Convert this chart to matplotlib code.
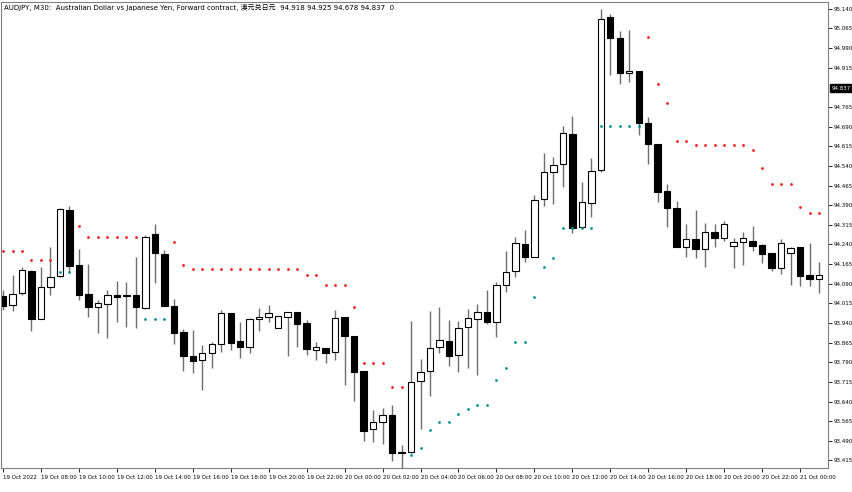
import numpy as np
import matplotlib
matplotlib.use("Agg")
import matplotlib.pyplot as plt

plt.rcParams['font.family'] = ['DejaVu Sans', 'Noto Sans CJK SC']

# AUDJPY M30 candles, 19 Oct 2022 06:00 .. 21 Oct 2022 01:00
opens = [94.043, 94.009, 94.055, 94.139, 93.955, 94.078, 94.120, 94.372, 94.162, 94.051,
         94.001, 94.013, 94.047, 94.047, 94.047, 93.997, 94.280, 94.204, 94.005, 93.906,
         93.814, 93.799, 93.826, 93.860, 93.978, 93.871, 93.848, 93.955, 93.963, 93.921,
         93.963, 93.982, 93.940, 93.837, 93.845, 93.829, 93.963, 93.890, 93.757, 93.535,
         93.562, 93.589, 93.447, 93.447, 93.719, 93.757, 93.848, 93.871, 93.818, 93.925,
         93.955, 93.982, 93.944, 94.085, 94.139, 94.242, 94.192, 94.414, 94.517, 94.548,
         94.662, 94.307, 94.399, 94.525, 95.109, 95.029, 94.895, 94.903, 94.704, 94.624,
         94.444, 94.379, 94.230, 94.261, 94.223, 94.288, 94.265, 94.234, 94.250, 94.253,
         94.238, 94.208, 94.150, 94.208, 94.230, 94.123, 94.108]
highs = [94.066, 94.123, 94.154, 94.143, 94.154, 94.230, 94.379, 94.387, 94.223, 94.166,
         94.028, 94.066, 94.101, 94.097, 94.192, 94.276, 94.318, 94.219, 94.032, 93.917,
         93.913, 93.856, 93.868, 93.990, 93.978, 93.944, 93.959, 93.997, 94.009, 93.967,
         93.982, 93.982, 93.952, 93.868, 93.845, 93.990, 93.963, 93.890, 93.757, 93.608,
         93.615, 93.627, 93.474, 93.948, 93.803, 93.986, 94.001, 93.952, 93.948, 93.994,
         94.013, 94.066, 94.097, 94.215, 94.269, 94.295, 94.429, 94.590, 94.574, 94.693,
         94.731, 94.479, 94.570, 95.140, 95.121, 95.056, 95.059, 94.903, 94.727, 94.624,
         94.471, 94.406, 94.318, 94.372, 94.322, 94.318, 94.330, 94.265, 94.288, 94.311,
         94.242, 94.208, 94.261, 94.230, 94.230, 94.246, 94.173]
lows = [93.990, 93.986, 94.047, 93.910, 93.955, 94.047, 94.116, 94.131, 94.028, 93.963,
        93.902, 93.883, 93.944, 93.925, 93.921, 93.994, 94.093, 94.005, 93.860, 93.757,
        93.749, 93.684, 93.768, 93.829, 93.837, 93.806, 93.826, 93.910, 93.944, 93.921,
        93.814, 93.848, 93.818, 93.799, 93.787, 93.799, 93.703, 93.642, 93.489, 93.486,
        93.478, 93.413, 93.359, 93.444, 93.535, 93.661, 93.826, 93.776, 93.753, 93.768,
        93.741, 93.936, 93.887, 94.059, 94.116, 94.173, 94.192, 94.387, 94.395, 94.460,
        94.284, 94.303, 94.345, 94.517, 94.887, 94.853, 94.861, 94.658, 94.548, 94.402,
        94.307, 94.230, 94.192, 94.188, 94.154, 94.230, 94.253, 94.150, 94.162, 94.215,
        94.169, 94.139, 94.127, 94.085, 94.081, 94.081, 94.055]
closes = [94.005, 94.051, 94.143, 93.955, 94.078, 94.116, 94.376, 94.158, 94.047, 94.001,
          94.017, 94.047, 94.039, 94.043, 94.001, 94.269, 94.208, 94.005, 93.902, 93.814,
          93.795, 93.826, 93.860, 93.978, 93.864, 93.848, 93.955, 93.963, 93.978, 93.967,
          93.982, 93.936, 93.841, 93.848, 93.826, 93.959, 93.890, 93.753, 93.528, 93.562,
          93.589, 93.444, 93.444, 93.715, 93.753, 93.845, 93.875, 93.814, 93.921, 93.959,
          93.982, 93.944, 94.085, 94.135, 94.246, 94.192, 94.410, 94.517, 94.544, 94.666,
          94.303, 94.402, 94.521, 95.101, 95.029, 94.895, 94.903, 94.704, 94.624, 94.441,
          94.379, 94.230, 94.261, 94.223, 94.288, 94.265, 94.318, 94.250, 94.265, 94.234,
          94.204, 94.150, 94.246, 94.227, 94.120, 94.108, 94.123]
# parabolic SAR
sar = [94.215, 94.215, 94.215, 94.181, 94.181, 94.181, 94.135, 94.135, 94.311, 94.269,
       94.269, 94.269, 94.269, 94.269, 94.269, 93.955, 93.955, 93.955, 94.250, 94.162,
       94.146, 94.146, 94.146, 94.146, 94.146, 94.146, 94.146, 94.146, 94.146, 94.146,
       94.146, 94.146, 94.123, 94.123, 94.085, 94.085, 94.085, 94.001, 93.787, 93.787,
       93.787, 93.696, 93.696, 93.436, 93.463, 93.531, 93.562, 93.562, 93.593, 93.612,
       93.627, 93.627, 93.722, 93.768, 93.868, 93.868, 94.039, 94.154, 94.188, 94.303,
       94.303, 94.303, 94.303, 94.693, 94.693, 94.693, 94.693, 94.693, 95.033, 94.853,
       94.781, 94.635, 94.635, 94.620, 94.620, 94.620, 94.620, 94.620, 94.620, 94.601,
       94.532, 94.471, 94.471, 94.471, 94.383, 94.360, 94.360]
tick_labels = ["19 Oct 2022", "19 Oct 08:00", "19 Oct 10:00", "19 Oct 12:00", "19 Oct 14:00",
               "19 Oct 16:00", "19 Oct 18:00", "19 Oct 20:00", "19 Oct 22:00", "20 Oct 00:00",
               "20 Oct 02:00", "20 Oct 04:00", "20 Oct 06:00", "20 Oct 08:00", "20 Oct 10:00",
               "20 Oct 12:00", "20 Oct 14:00", "20 Oct 16:00", "20 Oct 18:00", "20 Oct 20:00",
               "20 Oct 22:00", "21 Oct 00:00"]
last_price = 94.837

o = np.array(opens); h = np.array(highs); l = np.array(lows); c = np.array(closes)
s = np.array(sar)
x = np.arange(len(o))

fig = plt.figure(figsize=(8.52, 4.92), dpi=100)
ax = fig.add_axes([0.0012, 24 / 492, 827 / 852, 466 / 492])

ax.vlines(x, l, h, color='#6e6e6e', lw=1.0, zorder=1)
up = c >= o
body_b = np.minimum(o, c)
body_h = np.maximum(np.abs(c - o), 0.002)
ax.bar(x[up], body_h[up], 0.68, bottom=body_b[up], color='white', edgecolor='black', lw=0.8, zorder=2)
ax.bar(x[~up], body_h[~up], 0.68, bottom=body_b[~up], color='black', edgecolor='black', lw=0.8, zorder=2)

above = s > c
ax.scatter(x[above], s[above], s=4, color='#ff1a1a', zorder=3, lw=0)
ax.scatter(x[~above], s[~above], s=4, color='#00958a', zorder=3, lw=0)

ax.set_xlim(-0.21, 86.95)
ax.set_ylim(93.386, 95.166)

yt = [round(95.140 - 0.075 * k, 3) for k in range(24)]
yt = [v for v in yt if abs(v - 94.840) > 0.001]
ax.yaxis.tick_right()
ax.set_yticks(yt)
ax.set_yticklabels(["%.3f" % v for v in yt])
ax.tick_params(axis='y', labelsize=4, length=3, width=0.6, pad=1, colors='black')
ax.set_xticks(np.arange(0, 85, 4))
ax.set_xticklabels(tick_labels, ha='left')
ax.tick_params(axis='x', labelsize=4, length=3, width=0.6, pad=2)
ax.text(1.004, (last_price - 93.386) / (95.166 - 93.386), "%.3f" % last_price, transform=ax.transAxes,
        fontsize=4, color='white', va='center', ha='left',
        bbox=dict(boxstyle='square,pad=0.25', fc='black', ec='black'))
for sp in ax.spines.values():
    sp.set_color('#808080')
    sp.set_linewidth(0.8)

ax.text(0.003, 0.995, "AUDJPY, M30:  Australian Dollar vs Japanese Yen, Forward contract, 澳元兑日元  "
        "94.918 94.925 94.678 94.837  0", transform=ax.transAxes, fontsize=5, va='top', ha='left')

fig.savefig("out.png", dpi=100)
